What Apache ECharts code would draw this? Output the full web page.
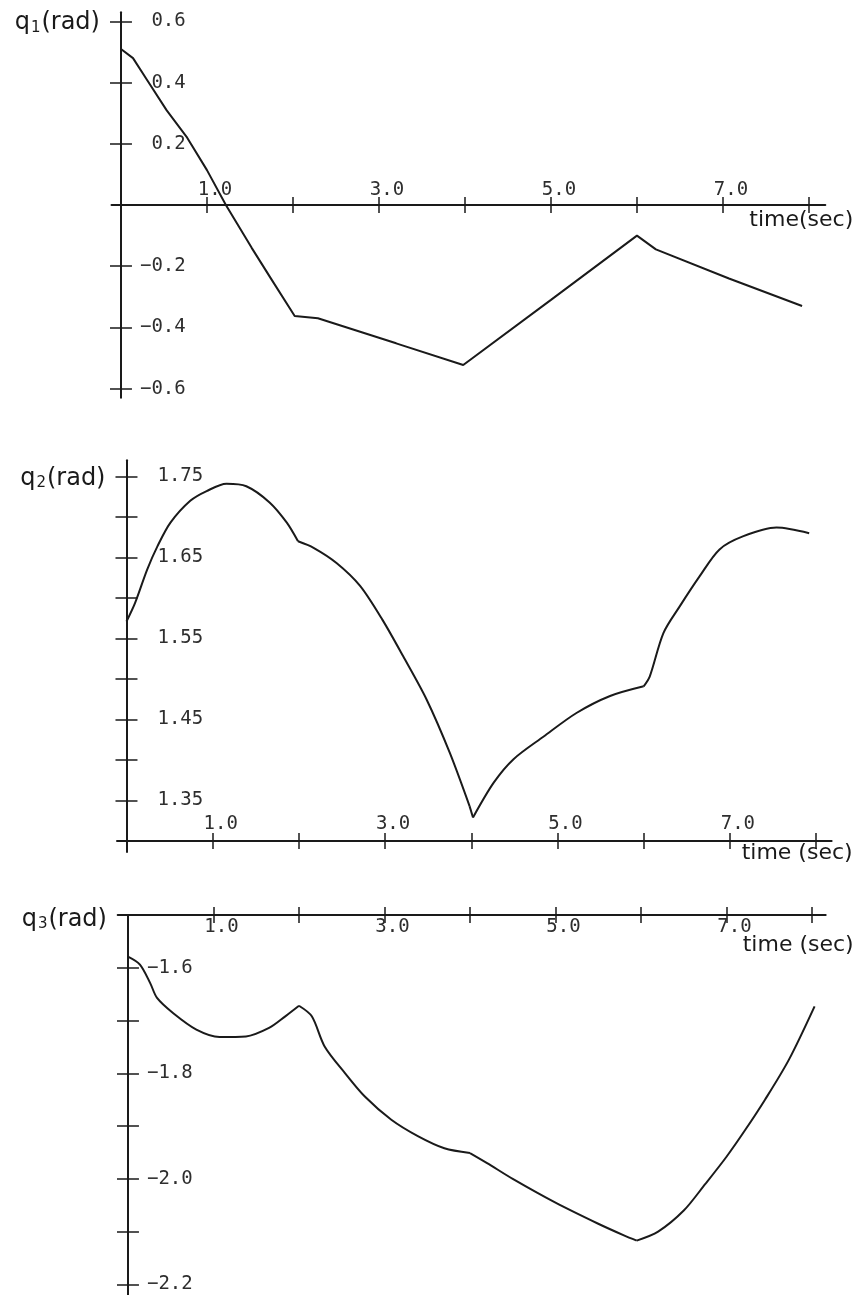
<!DOCTYPE html>
<html>
<head>
<meta charset="utf-8">
<script src="https://cdn.jsdelivr.net/npm/echarts@6/dist/echarts.min.js"></script>
<style>
html,body{margin:0;padding:0;background:#ffffff;}
#c{width:867px;height:1295px;}
</style>
</head>
<body>
<div id="c"></div>
<script>
// ---- data ----
const time1 = [0, 0.14, 0.30, 0.53, 0.77, 1.00, 1.22, 1.52, 1.75, 2.02, 2.29, 3.20, 3.98, 5.00, 6.00, 6.22, 7.07, 7.92];
const q1 = [0.51, 0.48, 0.41, 0.31, 0.22, 0.114, 0.0, -0.14, -0.243, -0.363, -0.37, -0.452, -0.523, -0.31, -0.10, -0.145, -0.24, -0.33];

const time2 = [0, 0.10, 0.24, 0.36, 0.51, 0.74, 0.93, 1.16, 1.39, 1.66, 1.86, 1.99, 2.17, 2.44, 2.71, 2.97, 3.21, 3.48, 3.75, 3.98, 4.02, 4.26, 4.49, 4.84, 5.22, 5.61, 6.00, 6.07, 6.23, 6.42, 6.65, 6.88, 7.15, 7.54, 7.92];
const q2 = [1.571, 1.594, 1.635, 1.664, 1.693, 1.720, 1.732, 1.741, 1.738, 1.718, 1.693, 1.670, 1.662, 1.643, 1.615, 1.573, 1.528, 1.475, 1.409, 1.343, 1.329, 1.372, 1.401, 1.429, 1.458, 1.479, 1.491, 1.503, 1.557, 1.590, 1.627, 1.660, 1.676, 1.687, 1.680];

const time3 = [0, 0.14, 0.26, 0.34, 0.53, 0.80, 1.07, 1.38, 1.65, 1.84, 2.00, 2.15, 2.30, 2.54, 2.77, 3.08, 3.39, 3.70, 4.00, 4.20, 4.50, 5.00, 5.50, 5.80, 5.95, 6.20, 6.50, 6.75, 7.00, 7.22, 7.45, 7.73, 8.03];
const q3 = [-1.579, -1.594, -1.629, -1.657, -1.686, -1.717, -1.731, -1.730, -1.714, -1.692, -1.672, -1.692, -1.749, -1.800, -1.844, -1.888, -1.919, -1.942, -1.951, -1.970, -2.000, -2.045, -2.085, -2.107, -2.117, -2.100, -2.060, -2.010, -1.958, -1.907, -1.850, -1.774, -1.673];

// times where the curves have a corner (switching instants)
const kinks1 = [];
const kinks2 = [1.99, 3.98, 4.02, 6.00];
const kinks3 = [2.00, 4.00, 5.95];

// tick / label values
const timeTicks = [1, 2, 3, 4, 5, 6, 7, 8];
const timeLabels = [1, 3, 5, 7];
const q1Ticks = [-0.6, -0.4, -0.2, 0.2, 0.4, 0.6];
const q1Labels = [-0.6, -0.4, -0.2, 0.2, 0.4, 0.6];
const q2Ticks = [1.35, 1.40, 1.45, 1.50, 1.55, 1.60, 1.65, 1.70, 1.75];
const q2Labels = [1.35, 1.45, 1.55, 1.65, 1.75];
const q3Ticks = [-2.2, -2.1, -2.0, -1.9, -1.8, -1.7, -1.6];
const q3Labels = [-2.2, -2.0, -1.8, -1.6];

// ---- styling ----
const INK = '#1a1a1a';
const INK2 = '#2e2e2e';
const MONO = '"DejaVu Sans Mono", "Liberation Mono", monospace';
const SANS = '"DejaVu Sans", "Noto Sans", sans-serif';
const LABEL_SIZE = 19;

function signed(v, d) {
  const s = Math.abs(v).toFixed(d);
  return (v < 0 ? '\u2212' : ' ') + s;
}

const panels = [
  { // q1
    grid: {left: 111.5, top: 12.2, width: 713.8, height: 385.6},
    xMin: -0.11, xMax: 8.19, yMin: -0.63, yMax: 0.63,
    xPos: 'bottom', xOnZero: true, xOffset: 0, xLabelMargin: 5,
    xName: 'time(sec)', xNameGap: 28, xNamePad: 4,
    yTicks: q1Ticks, yLabels: q1Labels, yFmt: v => signed(v, 1), yLabelMargin: 19,
    yName: '{a|q}{s|1}{a|(rad)}', yNameGap: -11, smooth: false,
    time: time1, q: q1, kinks: kinks1
  },
  { // q2
    grid: {left: 117, top: 460.3, width: 714.6, height: 391.7},
    xMin: -0.11, xMax: 8.18, yMin: 1.2864, yMax: 1.77,
    xPos: 'bottom', xOnZero: false, xOffset: -11, xLabelMargin: 7,
    xName: 'time (sec)', xNameGap: 21, xNamePad: 1,
    yTicks: q2Ticks, yLabels: q2Labels, yFmt: v => v.toFixed(2), yLabelMargin: 31,
    yName: '{a|q}{s|2}{a|(rad)}', yNameGap: -18, smooth: 0.3,
    time: time2, q: q2, kinks: kinks2
  },
  { // q3
    grid: {left: 117.7, top: 915, width: 708, height: 380},
    xMin: -0.12, xMax: 8.16, yMin: -2.22, yMax: -1.5,
    xPos: 'top', xOnZero: false, xOffset: 0, xLabelMargin: 3,
    xName: 'time (sec)', xNameGap: 28, xNamePad: 19,
    yTicks: q3Ticks, yLabels: q3Labels, yFmt: v => signed(v, 1), yLabelMargin: 19,
    yName: '{a|q}{s|3}{a|(rad)}', yNameGap: -5, smooth: 0.3,
    time: time3, q: q3, kinks: kinks3
  }
];

// split a curve into pieces at its corner times (each piece shares its end points)
function pieces(time, q, kinks) {
  const out = [];
  let cur = [];
  time.forEach((t, i) => {
    cur.push([t, q[i]]);
    if (kinks.indexOf(t) >= 0 && i > 0 && i < time.length - 1) {
      out.push(cur);
      cur = [[t, q[i]]];
    }
  });
  out.push(cur);
  return out;
}

const grids = [], xAxes = [], yAxes = [], series = [];
panels.forEach((p, gi) => {
  const g = p.grid;
  grids.push(Object.assign({containLabel: false, outerBoundsMode: 'none', show: false}, g));

  // when an axis sits on the other axis' zero, ECharts keeps its labels at the grid edge;
  // move them back next to the axis line.
  const yShift = (0 - p.xMin) / (p.xMax - p.xMin) * g.width;
  const xShift = p.xOnZero ? (0 - p.yMin) / (p.yMax - p.yMin) * g.height : 0;

  const xBase = {
    gridIndex: gi, type: 'value', min: p.xMin, max: p.xMax,
    position: p.xPos, offset: p.xOffset, splitLine: {show: false}, axisPointer: {show: false}
  };
  xAxes.push(Object.assign({}, xBase, {
    axisLine: {show: true, onZero: p.xOnZero, lineStyle: {color: INK, width: 2}},
    axisTick: {show: true, inside: true, length: 8, customValues: timeTicks, lineStyle: {color: INK, width: 1.5}},
    axisLabel: {
      show: true, inside: true, customValues: timeLabels, formatter: v => v.toFixed(1),
      margin: p.xLabelMargin + xShift, fontFamily: MONO, fontSize: LABEL_SIZE, color: INK2, padding: [0, 0, 0, 16]
    },
    name: p.xName, nameLocation: 'end', nameGap: p.xNameGap, nameMoveOverlap: false,
    nameTextStyle: {fontFamily: SANS, fontSize: 22, color: INK, align: 'right', verticalAlign: 'top', padding: [p.xNamePad, 0, 0, 0]}
  }));
  xAxes.push(Object.assign({}, xBase, {
    axisLine: {show: false, onZero: p.xOnZero},
    axisTick: {show: true, inside: false, length: 8, customValues: timeTicks, lineStyle: {color: INK, width: 1.5}},
    axisLabel: {show: false}
  }));

  const yBase = {
    gridIndex: gi, type: 'value', min: p.yMin, max: p.yMax, position: 'left',
    splitLine: {show: false}, axisPointer: {show: false}
  };
  yAxes.push(Object.assign({}, yBase, {
    axisLine: {show: true, onZero: true, lineStyle: {color: INK, width: 2}},
    axisTick: {show: true, inside: true, length: 11, customValues: p.yTicks, lineStyle: {color: INK, width: 1.5}},
    axisLabel: {
      show: true, inside: true, customValues: p.yLabels, formatter: p.yFmt,
      margin: p.yLabelMargin + yShift, fontFamily: MONO, fontSize: LABEL_SIZE, color: INK2, align: 'left'
    },
    name: p.yName, nameLocation: 'end', nameGap: p.yNameGap, nameMoveOverlap: false,
    nameTextStyle: {
      fontFamily: SANS, fontSize: 24, color: INK, align: 'right', verticalAlign: 'middle', padding: [0, 21, 0, 0],
      rich: {
        a: {fontFamily: SANS, fontSize: 24, color: INK},
        s: {fontFamily: SANS, fontSize: 15, color: INK, lineHeight: 15, padding: [12, 1, 0, 1], verticalAlign: 'bottom'}
      }
    }
  }));
  yAxes.push(Object.assign({}, yBase, {
    axisLine: {show: false, onZero: true},
    axisTick: {show: true, inside: false, length: 11, customValues: p.yTicks, lineStyle: {color: INK, width: 1.5}},
    axisLabel: {show: false}
  }));

  pieces(p.time, p.q, p.kinks).forEach(seg => {
    series.push({
      type: 'line', xAxisIndex: gi * 2, yAxisIndex: gi * 2,
      data: seg,
      showSymbol: false, symbol: 'none', smooth: seg.length > 2 ? p.smooth : false,
      lineStyle: {color: INK, width: 2}, silent: true
    });
  });
});

const chart = echarts.init(document.getElementById('c'), null, {renderer: 'canvas'});
chart.setOption({
  animation: false,
  backgroundColor: '#ffffff',
  grid: grids,
  xAxis: xAxes,
  yAxis: yAxes,
  series: series
});
</script>
</body>
</html>
